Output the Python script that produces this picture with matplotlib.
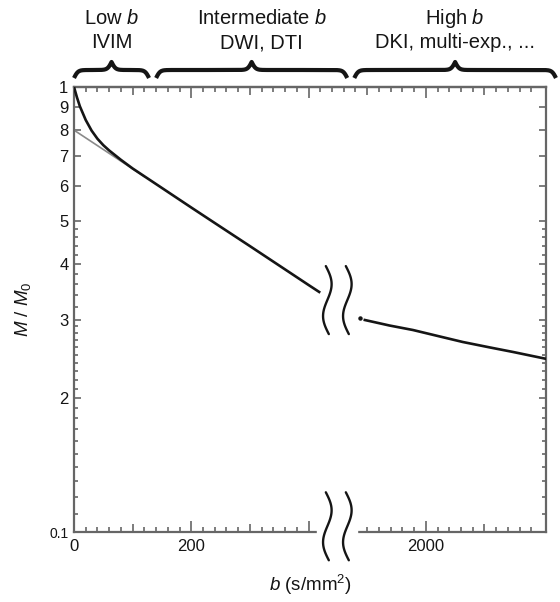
import numpy as np
import matplotlib
matplotlib.use('Agg')
import matplotlib.pyplot as plt
from matplotlib.patches import Rectangle
from matplotlib.ticker import FixedLocator, FixedFormatter, NullFormatter

plt.rcParams['font.family'] = ['Liberation Sans', 'DejaVu Sans']
plt.rcParams['mathtext.fontset'] = 'custom'
plt.rcParams['mathtext.rm'] = 'Liberation Sans'
plt.rcParams['mathtext.it'] = 'Liberation Sans:italic'

# signal decay (b in s/mm^2, M/M0)
b_low = [0, 5, 10, 20, 30, 40, 50, 60, 80, 100, 150, 200, 250, 300, 350, 400, 420]
m_low = [1.0, 0.948, 0.905, 0.843, 0.798, 0.765, 0.740, 0.720, 0.686, 0.656,
         0.593, 0.536, 0.485, 0.439, 0.397, 0.359, 0.345]
# mono-exponential extrapolation (grey)
b_fit = [0, 120]
m_fit = [0.80, 0.629]
# high b part, right of the axis break
b_high = [1896, 1938, 1978, 2024, 2063, 2109, 2149, 2178, 2207]
m_high = [0.2995, 0.2911, 0.2844, 0.2750, 0.2673, 0.2599, 0.2538, 0.2492, 0.2447]
b_dot = [1888]
m_dot = [0.302]

x_tick_b = [0, 200, 2000]
x_tick_labels = ['0', '200', '2000']
y_major = [0.1, 0.2, 0.3, 0.4, 0.5, 0.6, 0.7, 0.8, 0.9, 1.0]
y_labels = ['0.1', '2', '3', '4', '5', '6', '7', '8', '9', '1']
y_minor = ([0.11, 0.12, 0.13, 0.14, 0.15, 0.16, 0.17, 0.18, 0.19,
            0.21, 0.22, 0.23, 0.24, 0.25, 0.26, 0.27, 0.28, 0.29,
            0.32, 0.34, 0.36, 0.38, 0.42, 0.44, 0.46, 0.48])

headers = [('Low $b$', 'IVIM'), ('Intermediate $b$', 'DWI, DTI'),
           ('High $b$', 'DKI, multi-exp., ...')]

SHIFT = 1400          # high-b values are drawn shifted left by this much
gap = (415, 482)      # break in the b axis (axis units)

def to_axis(b):
    return [v - SHIFT if v >= 1000 else v for v in b]

axis_col = '#666666'
ink = '#151515'

fig = plt.figure(figsize=(5.6, 6.02), dpi=100)
ax = fig.add_axes([74/560, 1 - 532/602, 472/560, 445/602])
ax.set_yscale('log')
ax.set_xlim(0, 805)
ax.set_ylim(0.1, 1.0)

ax.plot(b_fit, m_fit, color='#8a8a8a', lw=1.2, zorder=2)
ax.plot(b_low, m_low, color=ink, lw=1.9, zorder=3, solid_capstyle='butt')
ax.plot(to_axis(b_high), m_high, color=ink, lw=1.9, zorder=3)
ax.plot(to_axis(b_dot), m_dot, 'o', ms=2.2, color=ink, zorder=3)

for s in ax.spines.values():
    s.set_color(axis_col)
    s.set_linewidth(1.6)

# y axis (log)
ax.yaxis.set_major_locator(FixedLocator(y_major))
ax.yaxis.set_major_formatter(FixedFormatter(y_labels))
ax.yaxis.set_minor_locator(FixedLocator(y_minor))
ax.yaxis.set_minor_formatter(NullFormatter())
ax.tick_params(axis='y', which='both', direction='in', right=True,
               color=axis_col, width=1.2, labelsize=12, labelcolor=ink, pad=4)
ax.tick_params(axis='y', which='major', length=5)
ax.tick_params(axis='y', which='minor', length=3)
ax.get_yticklabels()[0].set_fontsize(10)

# bottom ticks
big = [0, 200, 400, 600]
bot_minor = [v for v in list(range(20, 400, 20)) + list(range(500, 800, 20)) if v % 100 or v == 500]
ax.xaxis.set_major_locator(FixedLocator(big))
ax.xaxis.set_major_formatter(FixedFormatter(['0', '200', '', '2000']))
ax.xaxis.set_minor_locator(FixedLocator(bot_minor))
ax.tick_params(axis='x', which='both', direction='in', top=False,
               color=axis_col, width=1.2, labelsize=12, labelcolor=ink, pad=5)
ax.tick_params(axis='x', which='major', length=8)
ax.tick_params(axis='x', which='minor', length=3.6)

sb = ax.secondary_xaxis('bottom')
sb.set_xticks([100, 300, 700], labels=[])
sb.tick_params(direction='in', length=6, width=1.2, color=axis_col)
sb.spines['bottom'].set_visible(False)

# top ticks run without a break
st = ax.secondary_xaxis('top')
st.set_xticks([200, 400, 600], labels=[])
st.set_xticks([v for v in range(20, 800, 20) if v % 100], minor=True)
st.tick_params(which='both', direction='in', width=1.2, color=axis_col)
st.tick_params(which='major', length=8)
st.tick_params(which='minor', length=3.6)
st.spines['top'].set_color(axis_col)
st.spines['top'].set_linewidth(1.6)
stm = ax.secondary_xaxis('top')
stm.set_xticks([100, 300, 500, 700], labels=[])
stm.tick_params(direction='in', length=6, width=1.2, color=axis_col)
stm.spines['top'].set_visible(False)

ax.set_xlabel(r'$b$ (s/mm$^2$)', fontsize=13.5, color=ink, labelpad=14)
ax.set_ylabel(r'$M$ / $M_0$', fontsize=13.5, color=ink, labelpad=12)

# overlay in pixel coordinates for braces and break marks
ov = fig.add_axes([0, 0, 1, 1])
ov.set_xlim(0, 560)
ov.set_ylim(0, 602)
ov.axis('off')

def px(u, m):
    return ax.transData.transform((u, m))

def s_mark(xc, yc, h=68, a=5):
    s = np.linspace(0, 1, 100)
    ov.plot(xc + a*np.sin(2*np.pi*s) + 3*(s - 0.5), yc + h/2 - h*s,
            color=ink, lw=1.7, solid_capstyle='round')

x_l, y_b = px(gap[0], 0.1)
x_r, _ = px(gap[1], 0.1)
ov.add_patch(Rectangle((x_l, y_b - 6), x_r - x_l, 12, color='white', zorder=1))
xc1 = x_l + 10
xc2 = x_l + 30
for yv in (0.103, 0.332):
    _, yc = px(gap[0], yv)
    s_mark(xc1, yc)
    s_mark(xc2, yc)

def brace(x0, x1, y0, h):
    half = np.linspace(0, (x1 - x0) / 2, 200)
    k = 0.5
    yh = 1/(1 + np.exp(-k*(half - half[0]))) + 1/(1 + np.exp(-k*(half - half[-1])))
    yy = np.concatenate([yh, yh[-2::-1]])
    xx = np.linspace(x0, x1, len(yy))
    ov.plot(xx, y0 + h*(yy - 0.5), color=ink, lw=3.0, solid_capstyle='butt')

spans = [(0, 128), (140, 466), (478, 822)]
text_shift = [0, 10, 0]
for (u0, u1), (l1, l2), dx in zip(spans, headers, text_shift):
    x0, _ = px(u0, 1.0)
    x1, _ = px(u1, 1.0)
    brace(x0, x1, 602 - 78, 16)
    xc = (x0 + x1) / 2 + dx
    ov.text(xc, 602 - 18, l1, ha='center', va='center', fontsize=14.5, color=ink)
    ov.text(xc, 602 - 43, l2, ha='center', va='center', fontsize=14.5, color=ink)

fig.savefig('out.png', dpi=100)
